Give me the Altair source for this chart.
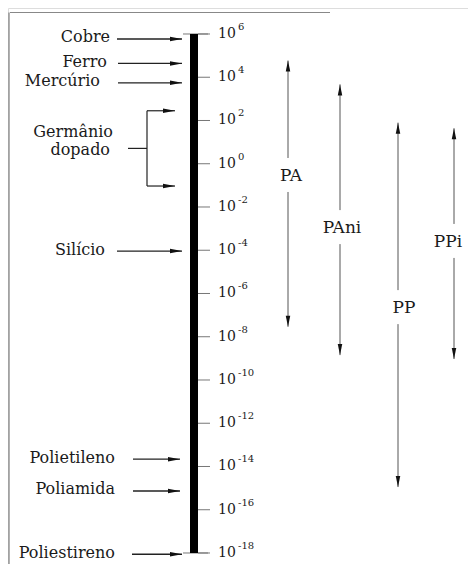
import altair as alt
import pandas as pd

# ---------------- data (exponents of 10) ----------------
tick_exponents = [6, 4, 2, 0, -2, -4, -6, -8, -10, -12, -14, -16, -18]
materials = ["Cobre", "Ferro", "Mercúrio", "Silício", "Polietileno", "Poliamida", "Poliestireno"]
material_exp = [5.77, 4.64, 3.74, -4.04, -13.66, -15.13, -18.06]
germanio_lines = ["Germânio", "dopado"]
germanio_exp = [2.45, -1.03]
polymers = ["PA", "PAni", "PP", "PPi"]
polymer_top = [4.77, 3.67, 1.90, 1.64]
polymer_bottom = [-7.54, -8.85, -14.95, -9.03]
polymer_label = [-0.52, -2.93, -6.63, -3.57]

# ---------------- layout (pixels) ----------------
W, H = 460, 556
FONT = "DejaVu Serif"
label_right = [102, 99, 92, 97, 107, 107, 107]
arrow_from = [109, 110, 110, 109, 125, 125, 124]
arrow_to = [174, 174, 174, 174, 172, 172, 174]
polymer_x = [280, 332, 390, 446]
polymer_label_x = [283, 334, 396, 440]
ger_label_x = [105, 102]
ger_label_dy = [-11, 7]

RIGHT_HEAD = "M0,0L-2.4,-0.45L-2.4,0.45Z"
UP_HEAD = "M0,0L-0.45,2.2L0.45,2.2Z"
DOWN_HEAD = "M0,0L-0.45,-2.2L0.45,-2.2Z"

ys = alt.Scale(domain=[-18.509, 7.202], range=[H, 0], nice=False, zero=False)
Y = lambda f: alt.Y(f, type="quantitative", scale=ys, axis=None)
NX = lambda f: alt.X(f, type="quantitative", scale=None, axis=None)

one = pd.DataFrame({"k": [0]})

# frame
left_border = alt.Chart(one).mark_rule(color="#666", strokeWidth=1).encode(
    x=alt.value(1), y=alt.value(4.5), y2=alt.value(H))
top_border = alt.Chart(one).mark_rule(color="#888", strokeWidth=1).encode(
    x=alt.value(2), x2=alt.value(322), y=alt.value(4.5))

# scale bar
bar_df = pd.DataFrame({"top": [max(tick_exponents)], "bot": [min(tick_exponents)]})
bar = alt.Chart(bar_df).mark_rule(color="black", strokeWidth=8).encode(
    x=alt.value(186), y=Y("top"), y2="bot")

ticks_df = pd.DataFrame({"e": tick_exponents, "exp": [str(e) for e in tick_exponents]})
ticks = alt.Chart(ticks_df).mark_rule(color="#777", strokeWidth=1).encode(
    x=alt.value(190), x2=alt.value(202), y=Y("e"))
caps_df = pd.DataFrame({"e": [max(tick_exponents), min(tick_exponents)]})
caps = alt.Chart(caps_df).mark_rule(color="#777", strokeWidth=1).encode(
    x=alt.value(175), x2=alt.value(200), y=Y("e"))
ten = alt.Chart(ticks_df).mark_text(font=FONT, fontSize=14, align="left", baseline="alphabetic",
                                    dy=4, color="#1a1a1a").encode(
    x=alt.value(210), y=Y("e"), text=alt.value("10"))
sup = alt.Chart(ticks_df).mark_text(font=FONT, fontSize=10, align="left", baseline="alphabetic",
                                    dy=-4, color="#1a1a1a").encode(
    x=alt.value(230), y=Y("e"), text="exp:N")

# material arrows
mat_df = pd.DataFrame({"name": materials, "e": material_exp, "lx": label_right,
                       "x0": arrow_from, "x1": arrow_to})
mat_line = alt.Chart(mat_df).mark_rule(color="#222", strokeWidth=1.4).encode(
    x=NX("x0"), x2="x1", y=Y("e"))
mat_head = alt.Chart(mat_df).mark_point(shape=RIGHT_HEAD, filled=True, size=100, opacity=1,
                                        color="#111", strokeWidth=0).encode(
    x=NX("x1"), y=Y("e"))
mat_text = alt.Chart(mat_df).mark_text(font=FONT, fontSize=16, align="right", baseline="alphabetic",
                                       dy=3.5, color="#1a1a1a").encode(
    x=NX("lx"), y=Y("e"), text="name:N")

# germanio bracket
ger_df = pd.DataFrame({"e": germanio_exp})
ger_range = pd.DataFrame({"top": [max(germanio_exp)], "bot": [min(germanio_exp)],
                          "mid": [sum(germanio_exp) / 2]})
ger_vert = alt.Chart(ger_range).mark_rule(color="#222", strokeWidth=1.2).encode(
    x=alt.value(139), y=Y("top"), y2="bot")
ger_conn = alt.Chart(ger_range).mark_rule(color="#222", strokeWidth=1.2).encode(
    x=alt.value(120), x2=alt.value(139), y=Y("mid"))
ger_arr = alt.Chart(ger_df).mark_rule(color="#222", strokeWidth=1.2).encode(
    x=alt.value(139), x2=alt.value(167), y=Y("e"))
ger_head = alt.Chart(ger_df).mark_point(shape=RIGHT_HEAD, filled=True, size=100, opacity=1,
                                        color="#111", strokeWidth=0).encode(
    x=alt.value(167), y=Y("e"))
ger_text_layers = []
for txt, lx, dy in zip(germanio_lines, ger_label_x, ger_label_dy):
    ger_text_layers.append(
        alt.Chart(ger_range).mark_text(font=FONT, fontSize=16, align="right", baseline="alphabetic",
                                       dy=dy, color="#1a1a1a").encode(
            x=alt.value(lx), y=Y("mid"), text=alt.value(txt)))

# polymer ranges
pol_df = pd.DataFrame({"name": polymers, "top": polymer_top, "bot": polymer_bottom,
                       "lab": polymer_label, "x": polymer_x, "lx": polymer_label_x})
pol_up = alt.Chart(pol_df).mark_rule(color="#555", strokeWidth=1, y2Offset=-17).encode(
    x=NX("x"), y=Y("top"), y2="lab")
pol_dn = alt.Chart(pol_df).mark_rule(color="#555", strokeWidth=1, yOffset=17).encode(
    x=NX("x"), y=Y("lab"), y2="bot")
pol_head_up = alt.Chart(pol_df).mark_point(shape=UP_HEAD, filled=True, size=100, opacity=1,
                                           color="#111", strokeWidth=0).encode(
    x=NX("x"), y=Y("top"))
pol_head_dn = alt.Chart(pol_df).mark_point(shape=DOWN_HEAD, filled=True, size=100, opacity=1,
                                           color="#111", strokeWidth=0).encode(
    x=NX("x"), y=Y("bot"))
pol_text = alt.Chart(pol_df).mark_text(font=FONT, fontSize=17, align="center", baseline="alphabetic",
                                       dy=6, color="#1a1a1a").encode(
    x=NX("lx"), y=Y("lab"), text="name:N")

chart = alt.layer(
    left_border, top_border, ticks, caps, bar, ten, sup,
    mat_line, mat_head, mat_text,
    ger_vert, ger_conn, ger_arr, ger_head, *ger_text_layers,
    pol_up, pol_dn, pol_head_up, pol_head_dn, pol_text,
).properties(
    width=W, height=H, padding=0, autosize=alt.AutoSizeParams(type="none")
).configure_view(stroke=None).configure(background="white")

chart.save("out.html", embed_options={"renderer": "svg", "actions": False})
